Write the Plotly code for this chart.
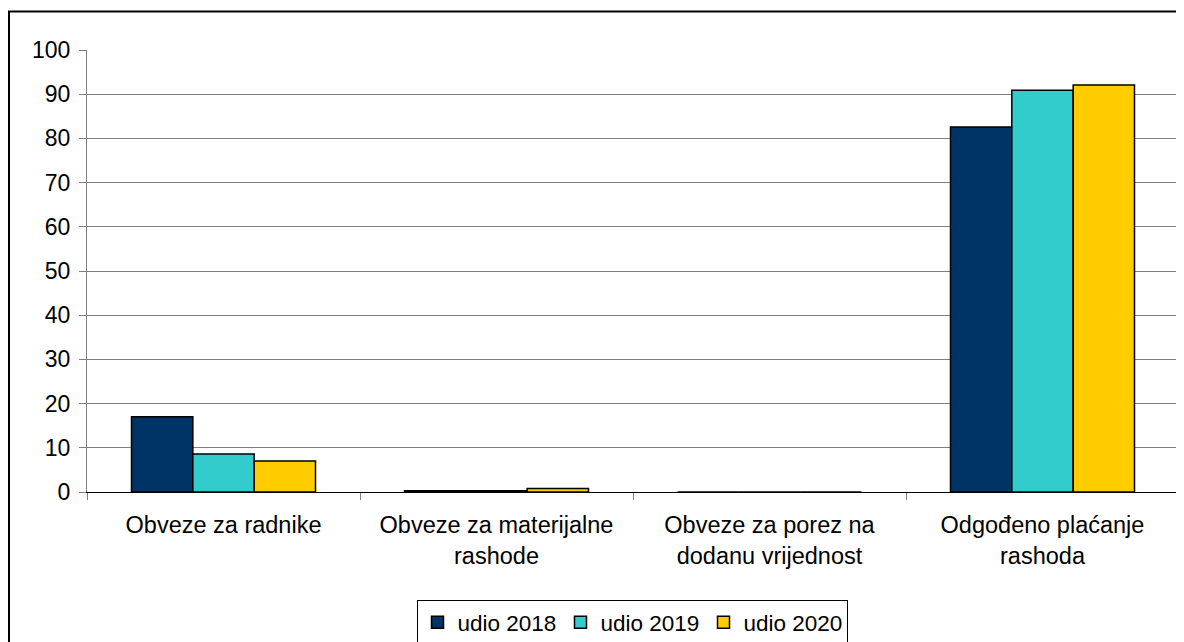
import plotly.graph_objects as go

categories = ["Obveze za radnike", "Obveze za materijalne<br>rashode",
              "Obveze za porez na<br>dodanu vrijednost", "Odgođeno plaćanje<br>rashoda"]
series_names = ["udio 2018", "udio 2019", "udio 2020"]
udio_2018 = [17.0, 0.3, 0.0, 82.6]
udio_2019 = [8.6, 0.3, 0.0, 90.9]
udio_2020 = [7.0, 0.8, 0.0, 92.1]
colors = ["#003366", "#33CCCC", "#FFCC00"]

FONT = "Liberation Sans, Arial, sans-serif"
fig = go.Figure()
for name, vals, col in zip(series_names, [udio_2018, udio_2019, udio_2020], colors):
    fig.add_trace(go.Bar(x=categories, y=vals, name=name,
                         marker=dict(color=col, line=dict(color="black", width=1.5))))

# page is offset by 8px body margin
W, H = 1176, 634
L, R, T, B = 79, 5, 42, 150
pw, ph = W - L - R, H - T - B

fig.update_layout(
    width=W, height=H,
    margin=dict(l=L, r=R, t=T, b=B, autoexpand=False),
    paper_bgcolor="white", plot_bgcolor="white",
    font=dict(family=FONT, size=23, color="black"),
    barmode="group", bargap=0.326, bargroupgap=0,
    showlegend=True,
    legend=dict(orientation="h", x=(624 - L) / pw, xanchor="center",
                y=(T + ph - 592) / ph, yanchor="top",
                bordercolor="black", borderwidth=1, bgcolor="white",
                font=dict(size=22.5), traceorder="normal",
                entrywidth=98, entrywidthmode="pixels"),
    xaxis=dict(showline=True, linecolor="black", linewidth=1,
               ticks="outside", tickson="boundaries", ticklen=7, tickcolor="#808080",
               tickfont=dict(size=23.5), ticklabelstandoff=12),
    yaxis=dict(range=[0, 100], dtick=10, showgrid=True, gridcolor="#808080", gridwidth=1,
               showline=True, linecolor="#808080", linewidth=1,
               ticks="outside", ticklen=7, tickcolor="#808080",
               tickfont=dict(size=23), ticklabelstandoff=4, zeroline=False),
    shapes=[dict(type="rect", xref="paper", yref="paper",
                 x0=(1 - L) / pw, x1=(W + 20 - L) / pw,
                 y0=(T + ph - (H + 20)) / ph, y1=(T + ph - 3.5) / ph,
                 line=dict(color="black", width=2), fillcolor="rgba(0,0,0,0)", layer="below")],
)

fig.write_html("out.html")
